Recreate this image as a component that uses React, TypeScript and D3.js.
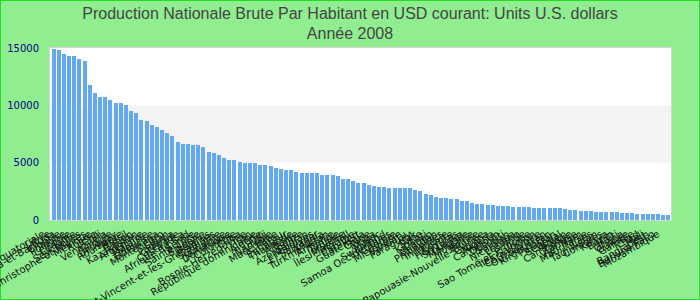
import React from "react";
import * as d3 from "d3";

const titleLines = ["Production Nationale Brute Par Habitant en USD courant: Units U.S. dollars", "Année 2008"];

const countries = [
  "Guinée équatoriale", "Libye", "Antigua-et-Barbuda", "Croatie", "Pologne", "Lettonie",
  "Lituanie", "Seychelles", "Saint-Christophe-et-Niévès", "Mexique", "Russie", "Chili",
  "Venezuela", "Turquie", "Uruguay", "Roumanie", "Brésil", "Gabon", "Kazakhstan", "Argentine",
  "Malaisie", "Maurice", "Botswana", "Monténégro", "Liban", "Panama", "Grenade", "Costa Rica",
  "Afrique du Sud", "Serbie", "Sainte-Lucie", "Bulgarie", "Bélarus",
  "Saint-Vincent-et-les-Grenadines", "Suriname", "Jamaïque", "Dominique", "Colombie", "Cuba",
  "Bosnie-Herzégovine", "Iran", "République dominicaine", "Algérie", "Fidji", "Namibie",
  "Macédoine", "Pérou", "Équateur", "Thaïlande", "Albanie", "Belize", "Azerbaïdjan", "Maldives",
  "El Salvador", "Angola", "Turkménistan", "Arménie", "Tunisie", "Jordanie", "Îles Marshall",
  "Ukraine", "Cap-Vert", "Guatemala", "Chine", "Tonga", "Maroc", "Swaziland",
  "Samoa Occidentales", "Géorgie", "Micronésie", "Vanuatu", "Paraguay", "Irak", "Syrie",
  "Kiribati", "Congo", "Bhoutan", "Philippines", "Indonésie", "Égypte", "Honduras", "Sri Lanka",
  "Mongolie", "Moldavie", "Bolivie", "Papouasie-Nouvelle-Guinée", "Guyana", "Nigéria",
  "Cameroun", "Djibouti", "Soudan", "Nicaragua", "Lesotho", "Inde", "Sao Tomé-et-Principe",
  "Îles Salomon", "Côte d'Ivoire", "Ouzbékistan", "Kirghizistan", "Pakistan", "Sénégal", "Yémen",
  "Cambodge", "Zambie", "Viet Nam", "Mauritanie", "Laos", "Tadjikistan", "Comores", "Kenya",
  "Bénin", "Haïti", "Ghana", "Guinée", "Gambie", "Tchad", "Mali", "Bangladesh", "Burkina Faso",
  "Mozambique",
];

const gnpValues = [
  14900, 14810, 14460, 14290, 14290, 14030, 13850, 11760, 11060, 10710, 10710, 10450,
  10190, 10190, 10010, 9490, 9320, 8710, 8620, 8270, 8100, 7830, 7570, 7310,
  6790, 6610, 6610, 6530, 6530, 6350, 5920, 5830, 5650, 5390, 5220, 5220,
  5040, 4960, 4960, 4960, 4780, 4780, 4700, 4520, 4430, 4350, 4350, 4170,
  4080, 4080, 4080, 4080, 3910, 3910, 3910, 3820, 3560, 3560, 3390, 3210,
  3210, 3040, 2950, 2860, 2860, 2780, 2780, 2780, 2780, 2780, 2600, 2520,
  2250, 2170, 1990, 1900, 1900, 1820, 1820, 1640, 1640, 1470, 1380, 1380,
  1290, 1290, 1210, 1210, 1210, 1120, 1120, 1120, 1120, 1030, 1030, 1030,
  1030, 1030, 1030, 945, 860, 860, 770, 770, 770, 680, 680, 680,
  680, 680, 600, 600, 600, 510, 510, 510, 510, 510, 420, 420,
];

const yTicks = [0, 5000, 10000, 15000];

const W = 700;
const H = 300;
const plotLeft = 50;
const plotRight = 671;
const plotTop = 48;
const plotBottom = 220;

export default function App() {
  const x = d3
    .scaleBand<string>()
    .domain(countries)
    .range([plotLeft + 1, plotRight])
    .paddingInner(0.25)
    .paddingOuter(0.125);
  const y = d3.scaleLinear().domain([0, 15000]).range([plotBottom, plotTop]);

  const bands: [number, number][] = [];
  for (let i = 0; i < yTicks.length - 1; i++) bands.push([yTicks[i], yTicks[i + 1]]);

  return (
    <svg
      width={W}
      height={H}
      style={{ position: "absolute", left: 0, top: 0, display: "block" }}
      xmlns="http://www.w3.org/2000/svg"
    >
      <rect x={0} y={0} width={W} height={H} fill="#90EE90" />
      <rect x={0.5} y={0.5} width={W - 1} height={H - 1} fill="none" stroke="#22dd22" strokeWidth={1} />
      {titleLines.map((t, i) => (
        <text
          key={i}
          x={350}
          y={19 + i * 20}
          textAnchor="middle"
          fontFamily="'Liberation Sans', Arial, sans-serif"
          fontSize={16}
          fill="#444444"
        >
          {t}
        </text>
      ))}
      <rect x={plotLeft} y={plotTop} width={plotRight - plotLeft} height={plotBottom - plotTop} fill="#ffffff" />
      {bands.map(([a, b], i) =>
        i % 2 === 1 ? (
          <rect
            key={i}
            x={plotLeft}
            y={y(b)}
            width={plotRight - plotLeft}
            height={y(a) - y(b)}
            fill="#f3f3f3"
          />
        ) : null
      )}
      <rect
        x={plotLeft - 0.5}
        y={plotTop - 0.5}
        width={plotRight - plotLeft + 1}
        height={plotBottom - plotTop + 1}
        fill="none"
        stroke="#d4d4d4"
        strokeWidth={1}
      />
      <g shapeRendering="crispEdges">
        {countries.map((c, i) => (
          <rect
            key={c}
            x={x(c)}
            y={y(gnpValues[i])}
            width={x.bandwidth()}
            height={y(0) - y(gnpValues[i])}
            fill="#63a9f2"
          />
        ))}
      </g>
      {yTicks.map((t) => (
        <text
          key={t}
          x={39}
          y={y(t)}
          dy="0.35em"
          textAnchor="end"
          fontFamily="'DejaVu Sans', sans-serif"
          fontSize={10}
          fill="#000080"
        >
          {t}
        </text>
      ))}
      {countries.map((c) => {
        const cx = (x(c) as number) + x.bandwidth() / 2;
        return (
          <text
            key={c}
            transform={`translate(${cx - 8},236) rotate(-30)`}
            textAnchor="end"
            fontFamily="'DejaVu Sans', sans-serif"
            fontSize={10}
            fill="#111111"
          >
            {c}
          </text>
        );
      })}
    </svg>
  );
}
